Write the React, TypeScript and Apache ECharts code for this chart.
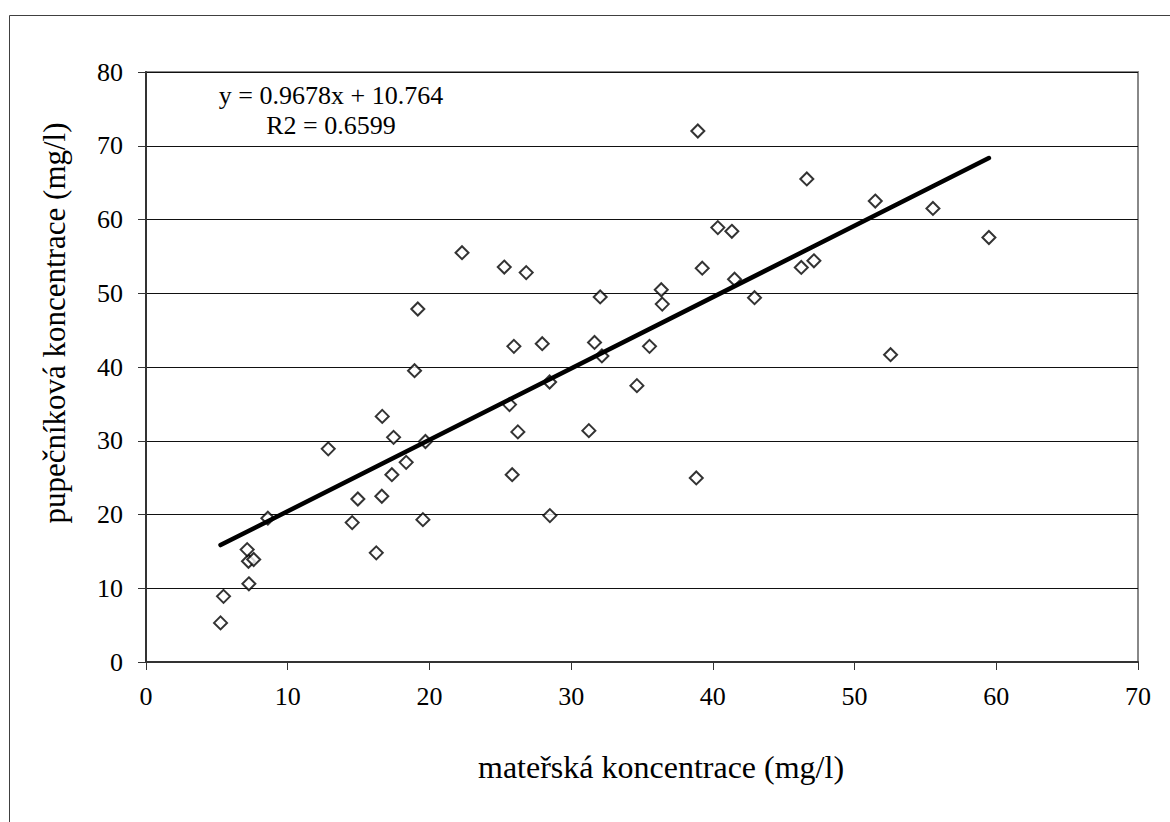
import React, { useEffect, useRef } from "react";
import * as echarts from "echarts";

// maternal concentration (mg/l)
const maternal: number[] = [
  5.26, 5.47, 7.26, 7.23, 7.6, 7.14, 8.6, 12.86, 14.55, 14.95,
  16.25, 16.64, 16.67, 17.35, 17.47, 18.36, 18.95, 19.54, 19.72, 19.18,
  22.3, 25.28, 26.83, 25.96, 25.65, 26.24, 25.84, 27.96, 28.48, 28.5,
  31.25, 31.65, 32.17, 32.05, 34.64, 35.53, 36.36, 36.43, 38.83, 38.94,
  39.25, 40.35, 41.34, 41.53, 42.94, 46.24, 47.13, 46.63, 51.46, 52.54,
  55.53, 59.48,
];
// umbilical concentration (mg/l)
const umbilical: number[] = [
  5.3, 8.9, 10.6, 13.66, 13.9, 15.24, 19.5, 28.9, 18.9, 22.1,
  14.8, 22.47, 33.3, 25.4, 30.46, 27.07, 39.5, 19.3, 29.9, 47.86,
  55.5, 53.55, 52.8, 42.8, 34.9, 31.2, 25.4, 43.16, 37.97, 19.85,
  31.37, 43.33, 41.5, 49.5, 37.47, 42.8, 50.47, 48.53, 24.96, 72.0,
  53.4, 58.9, 58.4, 51.9, 49.4, 53.5, 54.4, 65.5, 62.5, 41.67,
  61.5, 57.56,
];

const slope = 0.9678;
const intercept = 10.764;

const xTitle = "mateřská koncentrace (mg/l)";
const yTitle = "pupečníková koncentrace (mg/l)";
const equationText = "y = 0.9678x + 10.764";
const r2Text = "R2 = 0.6599";

const FONT = "'Liberation Serif', 'Times New Roman', serif";

export default function App() {
  const ref = useRef<HTMLDivElement>(null);

  useEffect(() => {
    if (!ref.current) return;
    const chart = echarts.init(ref.current, undefined, { renderer: "svg" });
    const points = maternal.map((x, i) => [x, umbilical[i]]);
    const xMin = Math.min(...maternal);
    const xMax = Math.max(...maternal);
    const trend = [
      [xMin, slope * xMin + intercept],
      [xMax, slope * xMax + intercept],
    ];

    chart.setOption({
      animation: false,
      backgroundColor: "#ffffff",
      grid: {
        left: 146,
        top: 72,
        right: 32,
        bottom: 160,
        show: true,
        borderColor: "#888888",
        borderWidth: 2,
        backgroundColor: "transparent",
      },
      xAxis: {
        type: "value",
        min: 0,
        max: 70,
        interval: 10,
        axisLine: { show: true, onZero: false, lineStyle: { color: "#333333", width: 2 } },
        axisTick: { show: true, inside: false, length: 8, lineStyle: { color: "#333333", width: 1 } },
        axisLabel: { margin: 21, color: "#000", fontFamily: FONT, fontSize: 26 },
        splitLine: { show: false },
      },
      yAxis: {
        type: "value",
        min: 0,
        max: 80,
        interval: 10,
        axisLine: { show: true, onZero: false, lineStyle: { color: "#333333", width: 2 } },
        axisTick: { show: true, inside: false, length: 8, lineStyle: { color: "#333333", width: 1 } },
        axisLabel: { margin: 23, color: "#000", fontFamily: FONT, fontSize: 26 },
        splitLine: { show: true, lineStyle: { color: "#111111", width: 1 } },
      },
      graphic: [
        {
          type: "rect",
          silent: true,
          shape: { x: 9.5, y: 15.5, width: 1300, height: 1000 },
          style: { fill: "none", stroke: "#404040", lineWidth: 1 },
          z: -10,
        },
        {
          type: "text",
          x: 331,
          y: 95,
          style: {
            text: equationText,
            fill: "#000",
            font: `26px ${FONT}`,
            align: "center",
            verticalAlign: "middle",
          },
        },
        {
          type: "text",
          x: 331,
          y: 125,
          style: {
            text: r2Text,
            fill: "#000",
            font: `26px ${FONT}`,
            align: "center",
            verticalAlign: "middle",
          },
        },
        {
          type: "text",
          x: 661,
          y: 767,
          style: {
            text: xTitle,
            fill: "#000",
            font: `32px ${FONT}`,
            align: "center",
            verticalAlign: "middle",
          },
        },
        {
          type: "text",
          x: 54,
          y: 323,
          rotation: Math.PI / 2,
          style: {
            text: yTitle,
            fill: "#000",
            font: `31px ${FONT}`,
            align: "center",
            verticalAlign: "middle",
          },
        },
      ],
      series: [
        {
          type: "scatter",
          data: points,
          symbol: "diamond",
          symbolSize: 13,
          itemStyle: { color: "#ffffff", borderColor: "#000000", borderWidth: 2 },
          z: 3,
        },
        {
          type: "line",
          data: trend,
          symbol: "none",
          lineStyle: { color: "#000000", width: 4.5, cap: "round" },
          z: 4,
        },
      ],
    });
    return () => chart.dispose();
  }, []);

  return (
    <div
      ref={ref}
      style={{ position: "fixed", left: 0, top: 0, width: 1170, height: 822 }}
    />
  );
}
